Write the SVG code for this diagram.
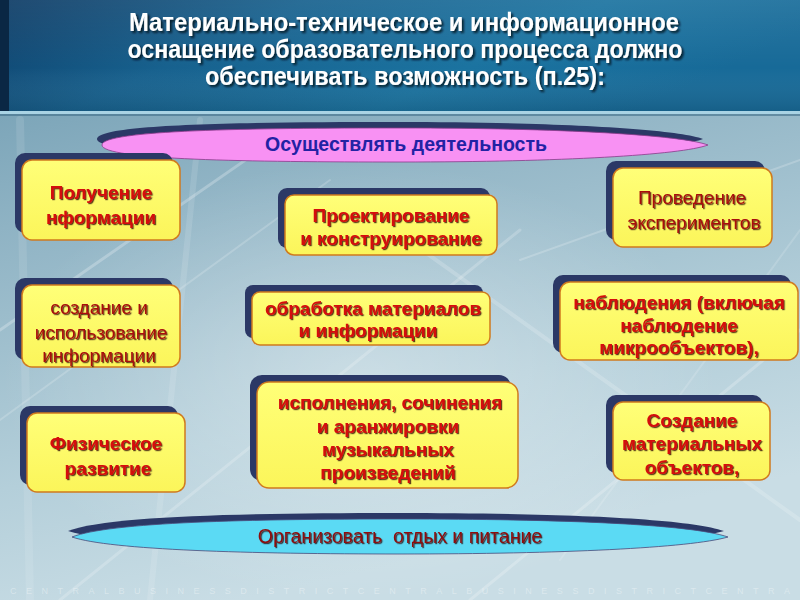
<svg xmlns="http://www.w3.org/2000/svg" width="800" height="600" viewBox="0 0 800 600">
<defs>
<linearGradient id="hdr" x1="0" y1="0" x2="1" y2="0.3">
<stop offset="0" stop-color="#0c3a64"/>
<stop offset="0.35" stop-color="#17618e"/>
<stop offset="0.7" stop-color="#1b73a0"/>
<stop offset="1" stop-color="#176a98"/>
</linearGradient>
<linearGradient id="hdrV" x1="0" y1="0" x2="0" y2="1">
<stop offset="0" stop-color="#ffffff" stop-opacity="0.08"/>
<stop offset="0.6" stop-color="#ffffff" stop-opacity="0"/>
<stop offset="1" stop-color="#000000" stop-opacity="0.12"/>
</linearGradient>
<linearGradient id="bg" x1="0" y1="0" x2="0.3" y2="1">
<stop offset="0" stop-color="#6a98ae"/>
<stop offset="0.35" stop-color="#8fb3c4"/>
<stop offset="0.75" stop-color="#b4cfda"/>
<stop offset="1" stop-color="#c9dde5"/>
</linearGradient>
<radialGradient id="glow" cx="0.45" cy="0.55" r="0.45">
<stop offset="0" stop-color="#ffffff" stop-opacity="0.35"/>
<stop offset="1" stop-color="#ffffff" stop-opacity="0"/>
</radialGradient>
<linearGradient id="yel" x1="0" y1="0" x2="0" y2="1">
<stop offset="0" stop-color="#ffff78"/>
<stop offset="1" stop-color="#fbf55a"/>
</linearGradient>
<filter id="ts" x="-5%" y="-20%" width="110%" height="150%">
<feDropShadow dx="1.2" dy="1.2" stdDeviation="0.6" flood-color="#2a0000" flood-opacity="0.75"/>
</filter>
<filter id="tts" x="-5%" y="-20%" width="110%" height="150%">
<feDropShadow dx="2" dy="2" stdDeviation="1" flood-color="#000814" flood-opacity="0.85"/>
</filter>
<style>
.sh{fill:#2b3866;}
.box{fill:url(#yel);stroke:#d07a1e;stroke-width:1.5;}
.b{font-family:"Liberation Sans",Arial,sans-serif;font-weight:bold;font-size:19px;fill:#d40a0a;text-anchor:middle;}
.r{font-family:"Liberation Sans",Arial,sans-serif;font-size:19px;fill:#a8100c;text-anchor:middle;}
.title{font-family:"Liberation Sans Narrow","Liberation Sans",Arial,sans-serif;font-weight:bold;font-size:25px;fill:#ffffff;text-anchor:middle;}
</style>
</defs>

<!-- background -->
<rect x="0" y="0" width="800" height="600" fill="url(#bg)"/>
<rect x="0" y="113" width="800" height="487" fill="url(#glow)"/>
<g stroke="#ffffff" fill="none" stroke-linecap="round">
<path d="M0,330 L260,150" stroke-opacity="0.25" stroke-width="3"/>
<path d="M0,420 L330,180" stroke-opacity="0.18" stroke-width="2"/>
<path d="M60,600 L520,230" stroke-opacity="0.2" stroke-width="3"/>
<path d="M470,600 L800,330" stroke-opacity="0.22" stroke-width="3"/>
<path d="M520,260 L800,160" stroke-opacity="0.2" stroke-width="2"/>
<path d="M380,220 L800,520" stroke-opacity="0.18" stroke-width="4"/>
<path d="M560,560 L800,230" stroke-opacity="0.15" stroke-width="2"/>
<path d="M150,600 L200,120" stroke-opacity="0.12" stroke-width="6"/>
<path d="M20,120 L30,600" stroke-opacity="0.1" stroke-width="8"/>
</g>
<text x="400" y="594" font-family="Liberation Sans,Arial,sans-serif" font-size="9" fill="#ffffff" fill-opacity="0.35" text-anchor="middle" textLength="780" lengthAdjust="spacing">CENTRALBUSINESSDISTRICTCENTRALBUSINESSDISTRICTCENTRA</text>

<!-- header -->
<g id="header">
<rect x="0" y="0" width="800" height="113" fill="url(#hdr)"/>
<rect x="0" y="0" width="800" height="113" fill="url(#hdrV)"/>
<rect x="0" y="0" width="9" height="113" fill="#0a2744"/>
<rect x="0" y="111" width="800" height="3" fill="#a9d3e4"/>
<rect x="0" y="114" width="800" height="2" fill="#3f6e88" fill-opacity="0.6"/>
<g filter="url(#tts)">
<text class="title" x="404" y="31" textLength="550" lengthAdjust="spacingAndGlyphs">Материально-техническое и информационное</text>
<text class="title" x="405" y="58" textLength="555" lengthAdjust="spacingAndGlyphs">оснащение образовательного процесса должно</text>
<text class="title" x="405" y="85" textLength="400" lengthAdjust="spacingAndGlyphs">обеспечивать возможность (п.25):</text>
</g>
</g>

<!-- top ellipse -->
<g id="top-banner">
<path class="sh" d="M97,139 C97,124 245,122 396,122 C556,122 676,129 703,139 C676,149 556,156 396,156 C245,156 97,154 97,139 Z"/>
<path d="M102,145 C102,130 250,128 401,128 C561,128 681,135 708,145 C681,155 561,162 401,162 C250,162 102,160 102,145 Z" fill="#f891f3" stroke="#8a3a8a" stroke-width="0.8"/>
<text x="406" y="151" font-family="Liberation Sans,Arial,sans-serif" font-weight="bold" font-size="19.5" fill="#2222a4" text-anchor="middle">Осуществлять деятельность</text>
</g>

<!-- nodes -->
<g id="n1">
<rect class="sh" x="15" y="153" width="158" height="80" rx="10"/>
<rect class="box" x="22" y="160" width="158" height="80" rx="10"/>
<g filter="url(#ts)"><text class="b" x="101" y="199">Получение</text><text class="b" x="101" y="224">нформации</text></g>
</g>

<g id="n2">
<rect class="sh" x="278" y="188" width="212" height="60" rx="9"/>
<rect class="box" x="285" y="195" width="212" height="60" rx="9"/>
<g filter="url(#ts)"><text class="b" x="391" y="222">Проектирование</text><text class="b" x="391" y="245">и конструирование</text></g>
</g>

<g id="n3">
<rect class="sh" x="606" y="161" width="159" height="79" rx="10"/>
<rect class="box" x="613" y="168" width="159" height="79" rx="10"/>
<g filter="url(#ts)"><text class="r" x="692" y="204">Проведение</text><text class="r" x="694" y="229">экспериментов</text></g>
</g>

<g id="n4">
<rect class="sh" x="15" y="278" width="158" height="82" rx="10"/>
<rect class="box" x="22" y="285" width="158" height="82" rx="10"/>
<g filter="url(#ts)"><text class="r" x="99" y="314">создание и</text><text class="r" x="101" y="339">использование</text><text class="r" x="99" y="362">информации</text></g>
</g>

<g id="n5">
<rect class="sh" x="245" y="285" width="238" height="53" rx="8"/>
<rect class="box" x="252" y="292" width="238" height="53" rx="8"/>
<g filter="url(#ts)"><text class="b" x="373" y="315">обработка материалов</text><text class="b" x="368" y="337">и информации</text></g>
</g>

<g id="n6">
<rect class="sh" x="553" y="275" width="238" height="78" rx="10"/>
<rect class="box" x="560" y="282" width="238" height="78" rx="10"/>
<g filter="url(#ts)"><text class="b" x="679" y="309">наблюдения (включая</text><text class="b" x="679" y="332">наблюдение</text><text class="b" x="679" y="354">микрообъектов),</text></g>
</g>

<g id="n7">
<rect class="sh" x="20" y="406" width="158" height="79" rx="10"/>
<rect class="box" x="27" y="413" width="158" height="79" rx="10"/>
<g filter="url(#ts)"><text class="b" x="106" y="450">Физическое</text><text class="b" x="108" y="475">развитие</text></g>
</g>

<g id="n8">
<rect class="sh" x="250" y="375" width="261" height="106" rx="12"/>
<rect class="box" x="257" y="382" width="261" height="106" rx="12"/>
<g filter="url(#ts)"><text class="b" x="390" y="409">исполнения, сочинения</text><text class="b" x="388" y="433">и аранжировки</text><text class="b" x="388" y="456">музыкальных</text><text class="b" x="388" y="479">произведений</text></g>
</g>

<g id="n9">
<rect class="sh" x="606" y="395" width="157" height="78" rx="10"/>
<rect class="box" x="613" y="402" width="157" height="78" rx="10"/>
<g filter="url(#ts)"><text class="b" x="692" y="427">Создание</text><text class="b" x="692" y="450">материальных</text><text class="b" x="692" y="474">объектов,</text></g>
</g>

<!-- bottom ellipse -->
<g id="bottom-banner">
<path class="sh" d="M68,531 C106,516 246,513 396,513 C556,513 686,518 724,531 C686,542 556,548 396,548 C246,548 106,544 68,531 Z"/>
<path d="M72,537 C110,522 250,519 400,519 C560,519 690,524 728,537 C690,548 560,554 400,554 C250,554 110,550 72,537 Z" fill="#5bdaf4" stroke="#4a4a7a" stroke-width="0.8"/>
<g filter="url(#ts)"><text x="400" y="543" font-family="Liberation Sans,Arial,sans-serif" font-size="19.5" fill="#8c1010" text-anchor="middle" xml:space="preserve">Организовать  отдых и питание</text></g>
</g>
</svg>
